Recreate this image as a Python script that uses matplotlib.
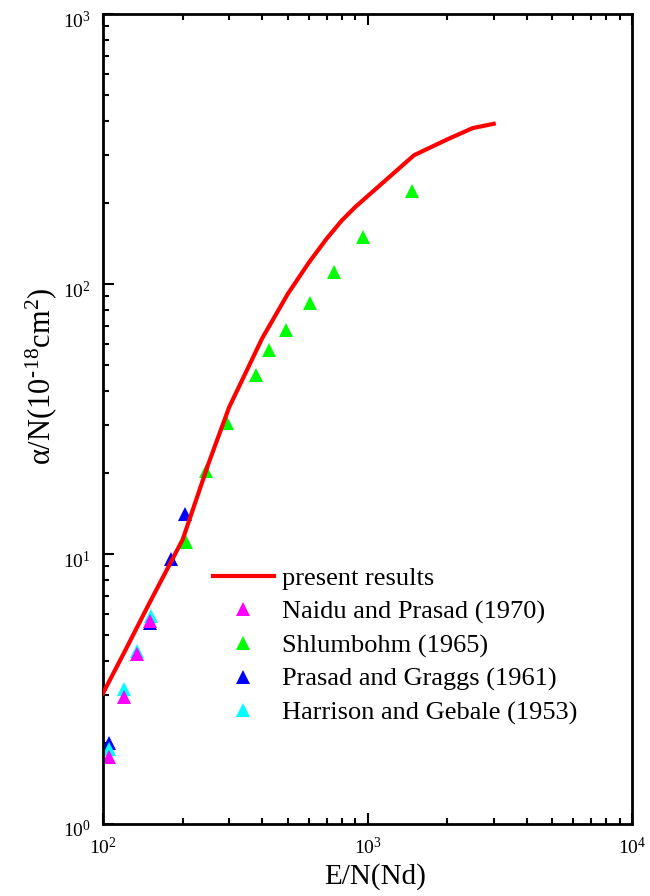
import matplotlib
matplotlib.use("Agg")
import matplotlib.pyplot as plt
from matplotlib.ticker import LogLocator, NullFormatter
from matplotlib.transforms import ScaledTranslation

plt.rcParams['font.family'] = ['Liberation Serif', 'DejaVu Serif']
plt.rcParams['mathtext.fontset'] = 'custom'
plt.rcParams['mathtext.rm'] = 'Liberation Serif'
plt.rcParams['mathtext.it'] = 'Liberation Serif:italic'
plt.rcParams['mathtext.default'] = 'regular'

# present results (red line)
present_x = [100, 120, 150, 200, 250, 300, 400, 500, 600, 700, 800, 900, 1500, 2000, 2500, 3000]
present_y = [3.05, 4.3, 6.6, 11.3, 21.5, 35, 63, 92, 120, 147, 172, 193, 300, 343, 378, 392]

naidu_x = [105, 120, 135, 150]
naidu_y = [1.77, 2.95, 4.26, 5.65]

shlum_x = [206, 245, 294, 379, 424, 492, 606, 747, 961, 1472]
shlum_y = [11.1, 20.3, 30.6, 46, 57, 67.6, 85, 111, 149, 221]

prasad_x = [105, 150, 181, 204]
prasad_y = [2.0, 5.55, 9.6, 14.1]

harrison_x = [105, 120, 135, 152]
harrison_y = [1.9, 3.16, 4.38, 5.9]

labels = ["present results", "Naidu and Prasad (1970)", "Shlumbohm (1965)",
          "Prasad and Graggs (1961)", "Harrison and Gebale (1953)"]

fig = plt.figure(figsize=(6.5, 8.96), dpi=100)
ax = fig.add_axes([103/650, 1-824/896, (632-103)/650, (824-14)/896])
ax.set_xscale('log')
ax.set_yscale('log')
ax.set_xlim(100, 10000)
ax.set_ylim(1, 1000)

ms = 10.5
h_shl, = ax.plot(shlum_x, shlum_y, '^', color='#00FF00', ms=ms, mew=0, zorder=2, label=labels[2])
h_pra, = ax.plot(prasad_x, prasad_y, '^', color='#0000FF', ms=ms, mew=0, zorder=2.1, label=labels[3])
h_har, = ax.plot(harrison_x, harrison_y, '^', color='#00FFFF', ms=ms, mew=0, zorder=2.2, label=labels[4])
h_nai, = ax.plot(naidu_x, naidu_y, '^', color='#FF00FF', ms=ms, mew=0, zorder=2.3, label=labels[1])
h_pre, = ax.plot(present_x, present_y, '-', color='#FF0000', lw=3, zorder=3, label=labels[0])

for s in ax.spines.values():
    s.set_linewidth(2)

ax.xaxis.set_major_locator(LogLocator(base=10, numticks=10))
ax.yaxis.set_major_locator(LogLocator(base=10, numticks=10))
ax.xaxis.set_minor_locator(LogLocator(base=10, subs=range(2, 10), numticks=20))
ax.yaxis.set_minor_locator(LogLocator(base=10, subs=range(2, 10), numticks=20))
ax.xaxis.set_minor_formatter(NullFormatter())
ax.yaxis.set_minor_formatter(NullFormatter())

ax.tick_params(which='both', direction='in', top=True, right=False, width=1.5, labelsize=14)
ax.tick_params(which='major', length=8)
ax.tick_params(which='minor', length=4)
ax.tick_params(axis='x', pad=9)
ax.tick_params(axis='y', pad=9)

# shift y tick labels slightly downward as in the reference
offset = ScaledTranslation(0, -5/100, fig.dpi_scale_trans)
for t in ax.yaxis.get_major_ticks():
    t.label1.set_transform(t.label1.get_transform() + offset)

ax.set_xlabel('E/N(Nd)', fontsize=21)
ax.set_ylabel('α/N(10$^{\u2010}$$^{18}$cm$^{2}$)', fontsize=22)
ax.xaxis.set_label_coords(0.514, -0.048)
ax.yaxis.set_label_coords(-0.084, 0.553)

leg = ax.legend(handles=[h_pre, h_nai, h_shl, h_pra, h_har], labels=labels,
                loc='upper left', bbox_to_anchor=(213/650, 1-567/896),
                bbox_transform=fig.transFigure, frameon=False, fontsize=19,
                numpoints=1, handlelength=2.3, handletextpad=0.3,
                labelspacing=0.37, borderpad=0, borderaxespad=0)

fig.savefig('out.png', dpi=100)
